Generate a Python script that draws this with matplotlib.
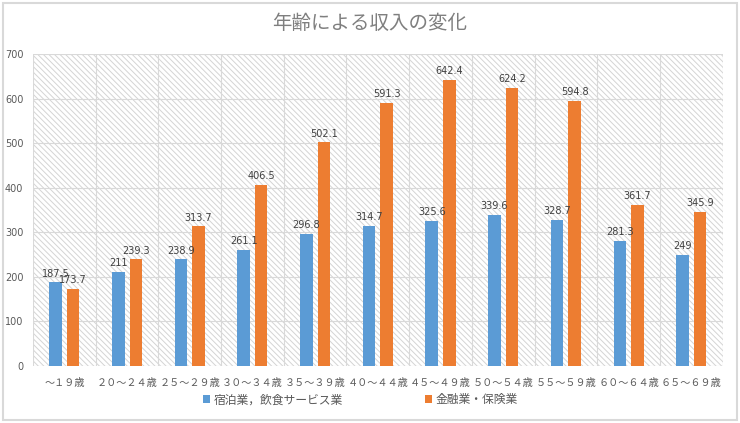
import matplotlib
matplotlib.use("Agg")
import matplotlib.pyplot as plt
from matplotlib.patches import Rectangle
import numpy as np

plt.rcParams['font.family'] = ['Noto Sans CJK JP', 'DejaVu Sans']
plt.rcParams['hatch.linewidth'] = 0.7

categories = ["～１９歳", "２０～２４歳", "２５～２９歳", "３０～３４歳", "３５～３９歳",
              "４０～４４歳", "４５～４９歳", "５０～５４歳", "５５～５９歳", "６０～６４歳", "６５～６９歳"]
hospitality = [187.5, 211, 238.9, 261.1, 296.8, 314.7, 325.6, 339.6, 328.7, 281.3, 249]
finance = [173.7, 239.3, 313.7, 406.5, 502.1, 591.3, 642.4, 624.2, 594.8, 361.7, 345.9]
series_names = ["宿泊業，飲食サービス業", "金融業・保険業"]
title = "年齢による収入の変化"

blue = "#5B9BD5"
orange = "#ED7D31"

fig = plt.figure(figsize=(7.4, 4.23), dpi=100)
fig.patches.append(Rectangle((0.004, 0.006), 0.992, 0.988, transform=fig.transFigure,
                             fill=False, edgecolor="#d9d9d9", linewidth=1.5))
ax = fig.add_axes([0.0446, 0.135, 0.932, 0.737])

x = np.arange(len(categories))
w = 0.2
off = 0.14
ax.set_xlim(-0.5, len(categories) - 0.5)
ax.set_ylim(0, 700)

# hatched background
ax.add_patch(Rectangle((0, 0), 1, 1, transform=ax.transAxes, facecolor="white",
                       edgecolor="#d4d4d4", hatch="\\\\\\\\\\\\", linewidth=0, zorder=0))

b1 = ax.bar(x - off, hospitality, w, color=blue, zorder=3, label=series_names[0])
b2 = ax.bar(x + off, finance, w, color=orange, zorder=3, label=series_names[1])

for xi, v in zip(x, hospitality):
    ax.text(xi - off, v + 8, f"{v:g}", ha="center", va="bottom", fontsize=7, color="#404040",
            family=['DejaVu Sans'], zorder=4)
for xi, v in zip(x, finance):
    ax.text(xi + off, v + 8, f"{v:g}", ha="center", va="bottom", fontsize=7, color="#404040",
            family=['DejaVu Sans'], zorder=4)

# grid
for yv in range(0, 701, 100):
    ax.axhline(yv, color="#d9d9d9", linewidth=0.8, zorder=1)
for xv in np.arange(-0.5, len(categories), 1):
    ax.axvline(xv, color="#d9d9d9", linewidth=0.8, zorder=1)

ax.set_yticks(range(0, 701, 100))
ax.set_yticklabels([str(v) for v in range(0, 701, 100)], fontsize=7, color="#595959",
                   family=['DejaVu Sans'])
ax.set_xticks(x)
ax.set_xticklabels(categories, fontsize=7.3, color="#595959")
ax.tick_params(length=0)
ax.tick_params(axis='x', pad=9)
ax.tick_params(axis='y', pad=7)
for s in ax.spines.values():
    s.set_visible(False)

fig.text(0.5, 0.945, title, ha="center", va="center", fontsize=14, color="#7f7f7f")

leg = fig.legend(handles=[b1, b2], labels=series_names, loc="center", bbox_to_anchor=(0.487, 0.055),
                 ncol=2, frameon=False, fontsize=8.5, handlelength=0.6, handleheight=0.6,
                 handletextpad=0.3, columnspacing=7.0)
for t in leg.get_texts():
    t.set_color("#595959")

fig.savefig("out.png", dpi=100)
